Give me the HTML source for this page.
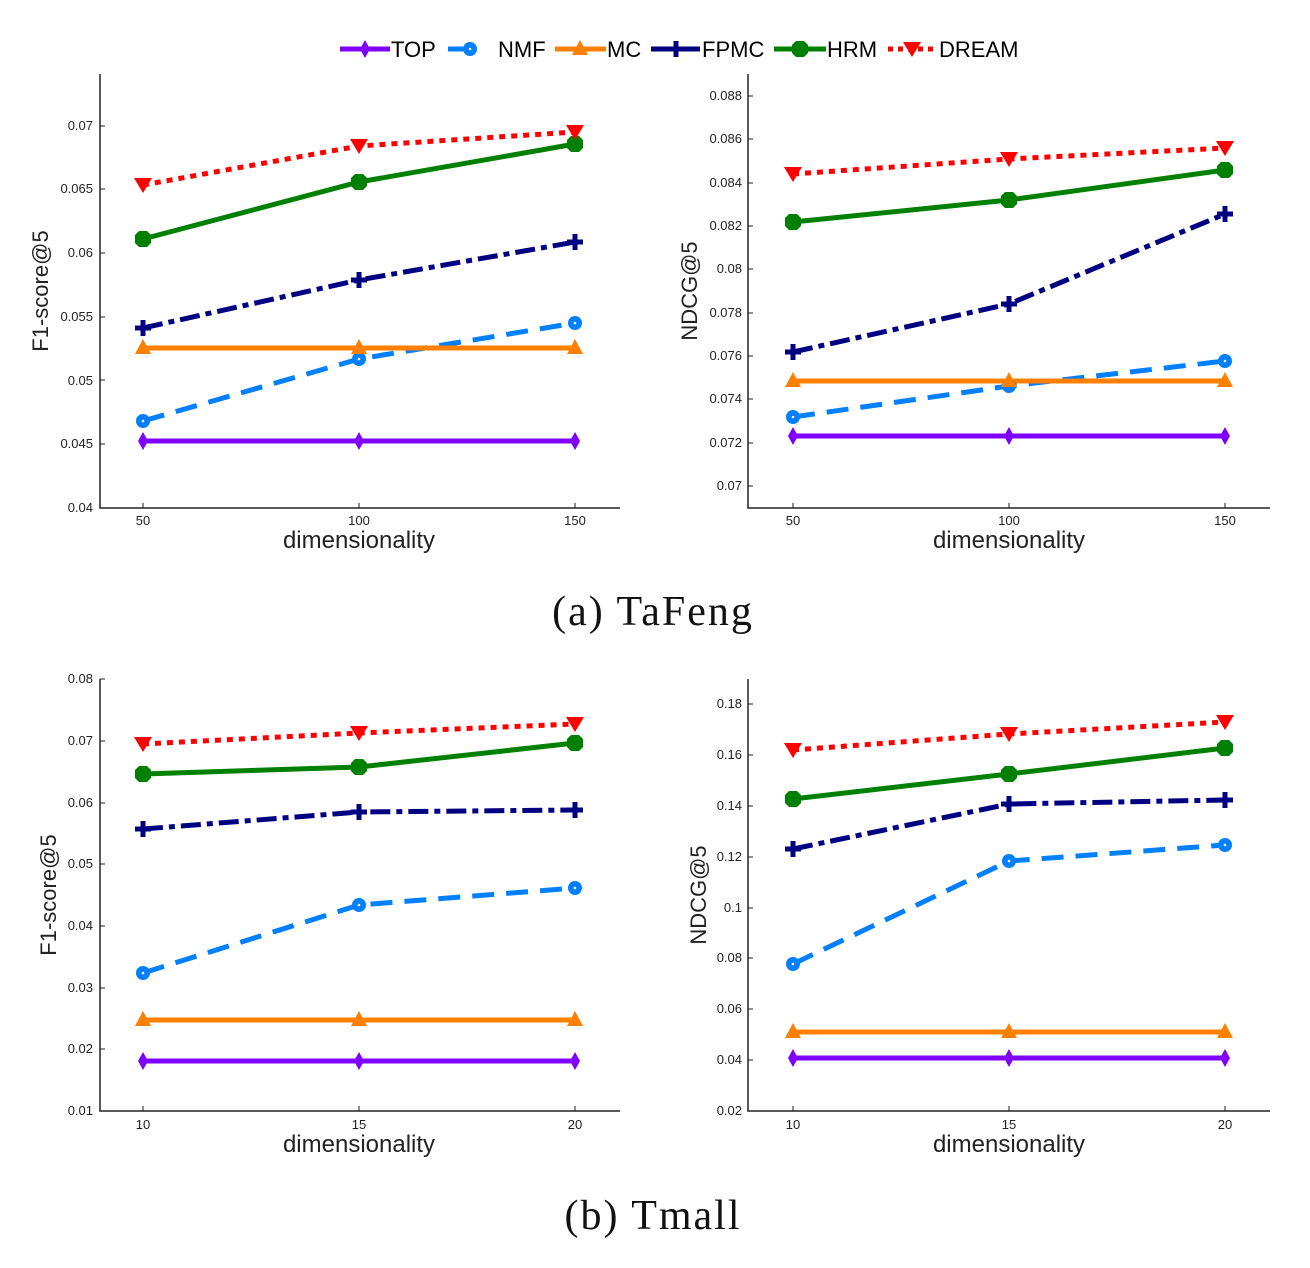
<!DOCTYPE html>
<html><head><meta charset="utf-8"><style>body{margin:0;background:#fff}svg{display:block}</style></head><body>
<svg width="1310" height="1268" viewBox="0 0 1310 1268" xmlns="http://www.w3.org/2000/svg" font-family="Liberation Sans, sans-serif">
<defs>
<g id="mTOP"><polygon points="0,-9 5,0 0,9 -5,0" fill="#7f00ff"/></g>
<g id="mNMF"><circle r="7" fill="#0080ff"/><circle r="1.3" fill="#fff"/></g>
<g id="mMC"><polygon points="0,-9 8,6 -8,6" fill="#ff8000"/></g>
<g id="mFPMC"><path d="M-8,0H8M0,-8V8" stroke="#000080" stroke-width="5"/></g>
<g id="mHRM"><polygon points="-4,-8 4,-8 8,-4 8,4 4,8 -4,8 -8,4 -8,-4" fill="#008000"/></g>
<g id="mDREAM"><polygon points="-9,-7 9,-7 0,8" fill="#ff0000"/></g>
</defs>
<g font-size="22">
<line x1="340" y1="49" x2="390" y2="49" stroke="#7f00ff" stroke-width="5"/><use href="#mTOP" x="365" y="49"/><text x="391" y="57">TOP</text>
<line x1="448" y1="49" x2="475" y2="49" stroke="#0080ff" stroke-width="5"/><use href="#mNMF" x="470" y="49"/><text x="498" y="57">NMF</text>
<line x1="555" y1="49" x2="606" y2="49" stroke="#ff8000" stroke-width="5"/><use href="#mMC" x="580" y="49"/><text x="607" y="57">MC</text>
<line x1="651" y1="49" x2="700" y2="49" stroke="#000080" stroke-width="5"/><use href="#mFPMC" x="676" y="49"/><text x="702" y="57">FPMC</text>
<line x1="774" y1="49" x2="826" y2="49" stroke="#008000" stroke-width="5"/><use href="#mHRM" x="800" y="49"/><text x="827" y="57">HRM</text>
<line x1="888" y1="49" x2="937" y2="49" stroke="#ff0000" stroke-width="5" stroke-dasharray="5,5"/><use href="#mDREAM" x="912" y="49"/><text x="939" y="57">DREAM</text>
</g>

<g stroke="#222" stroke-width="1.5" fill="none">
<path d="M100,74V508H620"/><path d="M748,74V508H1270"/>
<path d="M100,679V1111H620"/><path d="M748,679V1111H1270"/>
</g>
<g font-size="13" fill="#222" text-anchor="end">
<g><text x="93" y="512">0.04</text><text x="93" y="448">0.045</text><text x="93" y="385">0.05</text><text x="93" y="321">0.055</text><text x="93" y="257">0.06</text><text x="93" y="193">0.065</text><text x="93" y="130">0.07</text></g>
<path d="M100,444h5M100,380h5M100,317h5M100,253h5M100,189h5M100,126h5" stroke="#222"/>
<g><text x="742" y="490">0.07</text><text x="742" y="447">0.072</text><text x="742" y="403">0.074</text><text x="742" y="360">0.076</text><text x="742" y="317">0.078</text><text x="742" y="273">0.08</text><text x="742" y="230">0.082</text><text x="742" y="187">0.084</text><text x="742" y="143">0.086</text><text x="742" y="100">0.088</text></g>
<path d="M748,486h5M748,443h5M748,399h5M748,356h5M748,313h5M748,269h5M748,226h5M748,183h5M748,139h5M748,96h5" stroke="#222"/>
<g><text x="93" y="1115">0.01</text><text x="93" y="1053">0.02</text><text x="93" y="992">0.03</text><text x="93" y="930">0.04</text><text x="93" y="868">0.05</text><text x="93" y="807">0.06</text><text x="93" y="745">0.07</text><text x="93" y="683">0.08</text></g>
<path d="M100,1049h5M100,988h5M100,926h5M100,864h5M100,803h5M100,741h5M100,679h5" stroke="#222"/>
<g><text x="742" y="1115">0.02</text><text x="742" y="1064">0.04</text><text x="742" y="1013">0.06</text><text x="742" y="962">0.08</text><text x="742" y="912">0.1</text><text x="742" y="861">0.12</text><text x="742" y="810">0.14</text><text x="742" y="759">0.16</text><text x="742" y="708">0.18</text></g>
<path d="M748,1060h5M748,1009h5M748,958h5M748,908h5M748,857h5M748,806h5M748,755h5M748,704h5" stroke="#222"/>
</g>
<g font-size="13" fill="#222" text-anchor="middle">
<text x="143" y="525">50</text><text x="359" y="525">100</text><text x="575" y="525">150</text>
<text x="793" y="525">50</text><text x="1009" y="525">100</text><text x="1225" y="525">150</text>
<text x="143" y="1129">10</text><text x="359" y="1129">15</text><text x="575" y="1129">20</text>
<text x="793" y="1129">10</text><text x="1009" y="1129">15</text><text x="1225" y="1129">20</text>
</g>
<path d="M143,508v-5M359,508v-5M575,508v-5M793,508v-5M1009,508v-5M1225,508v-5M143,1111v-5M359,1111v-5M575,1111v-5M793,1111v-5M1009,1111v-5M1225,1111v-5" stroke="#222"/>
<g font-size="24" fill="#222" text-anchor="middle">
<text x="359" y="548">dimensionality</text><text x="1009" y="548">dimensionality</text>
<text x="359" y="1152">dimensionality</text><text x="1009" y="1152">dimensionality</text>
</g>
<g font-size="22" fill="#222" text-anchor="middle">
<text transform="translate(48,291) rotate(-90)">F1-score@5</text>
<text transform="translate(697,291) rotate(-90)">NDCG@5</text>
<text transform="translate(56,895) rotate(-90)">F1-score@5</text>
<text transform="translate(706,895) rotate(-90)">NDCG@5</text>
</g>
<g font-family="Liberation Serif, serif" font-size="42" letter-spacing="2" text-anchor="middle" fill="#111">
<text x="653" y="625">(a) TaFeng</text><text x="653" y="1229">(b) Tmall</text>
</g>

<g fill="none" stroke-width="5">
<polyline points="143,441 359,441 575,441" stroke="#7f00ff"/>
<polyline points="143,421 359,359 575,323" stroke="#0080ff" stroke-dasharray="22,12"/>
<polyline points="143,348 359,348 575,348" stroke="#ff8000"/>
<polyline points="143,328 359,280 575,242" stroke="#000080" stroke-dasharray="20,6,6,6"/>
<polyline points="143,239 359,182 575,144" stroke="#008000"/>
<polyline points="143,185 359,146 575,132" stroke="#ff0000" stroke-dasharray="6,6"/>
<polyline points="793,436 1009,436 1225,436" stroke="#7f00ff"/>
<polyline points="793,417 1009,386 1225,361" stroke="#0080ff" stroke-dasharray="22,12"/>
<polyline points="793,381 1009,381 1225,381" stroke="#ff8000"/>
<polyline points="793,352 1009,304 1225,214" stroke="#000080" stroke-dasharray="20,6,6,6"/>
<polyline points="793,222 1009,200 1225,170" stroke="#008000"/>
<polyline points="793,174 1009,159 1225,148" stroke="#ff0000" stroke-dasharray="6,6"/>
<polyline points="143,1061 359,1061 575,1061" stroke="#7f00ff"/>
<polyline points="143,973 359,905 575,888" stroke="#0080ff" stroke-dasharray="22,12"/>
<polyline points="143,1020 359,1020 575,1020" stroke="#ff8000"/>
<polyline points="143,829 359,812 575,810" stroke="#000080" stroke-dasharray="20,6,6,6"/>
<polyline points="143,774 359,767 575,743" stroke="#008000"/>
<polyline points="143,744 359,733 575,724" stroke="#ff0000" stroke-dasharray="6,6"/>
<polyline points="793,1058 1009,1058 1225,1058" stroke="#7f00ff"/>
<polyline points="793,964 1009,861 1225,845" stroke="#0080ff" stroke-dasharray="22,12"/>
<polyline points="793,1032 1009,1032 1225,1032" stroke="#ff8000"/>
<polyline points="793,849 1009,804 1225,800" stroke="#000080" stroke-dasharray="20,6,6,6"/>
<polyline points="793,799 1009,774 1225,748" stroke="#008000"/>
<polyline points="793,750 1009,734 1225,722" stroke="#ff0000" stroke-dasharray="6,6"/>
</g>
<g>
<use href="#mTOP" x="143" y="441"/><use href="#mTOP" x="359" y="441"/><use href="#mTOP" x="575" y="441"/>
<use href="#mNMF" x="143" y="421"/><use href="#mNMF" x="359" y="359"/><use href="#mNMF" x="575" y="323"/>
<use href="#mMC" x="143" y="348"/><use href="#mMC" x="359" y="348"/><use href="#mMC" x="575" y="348"/>
<use href="#mFPMC" x="143" y="328"/><use href="#mFPMC" x="359" y="280"/><use href="#mFPMC" x="575" y="242"/>
<use href="#mHRM" x="143" y="239"/><use href="#mHRM" x="359" y="182"/><use href="#mHRM" x="575" y="144"/>
<use href="#mDREAM" x="143" y="185"/><use href="#mDREAM" x="359" y="146"/><use href="#mDREAM" x="575" y="132"/>

<use href="#mTOP" x="793" y="436"/><use href="#mTOP" x="1009" y="436"/><use href="#mTOP" x="1225" y="436"/>
<use href="#mNMF" x="793" y="417"/><use href="#mNMF" x="1009" y="386"/><use href="#mNMF" x="1225" y="361"/>
<use href="#mMC" x="793" y="381"/><use href="#mMC" x="1009" y="381"/><use href="#mMC" x="1225" y="381"/>
<use href="#mFPMC" x="793" y="352"/><use href="#mFPMC" x="1009" y="304"/><use href="#mFPMC" x="1225" y="214"/>
<use href="#mHRM" x="793" y="222"/><use href="#mHRM" x="1009" y="200"/><use href="#mHRM" x="1225" y="170"/>
<use href="#mDREAM" x="793" y="174"/><use href="#mDREAM" x="1009" y="159"/><use href="#mDREAM" x="1225" y="148"/>

<use href="#mTOP" x="143" y="1061"/><use href="#mTOP" x="359" y="1061"/><use href="#mTOP" x="575" y="1061"/>
<use href="#mNMF" x="143" y="973"/><use href="#mNMF" x="359" y="905"/><use href="#mNMF" x="575" y="888"/>
<use href="#mMC" x="143" y="1020"/><use href="#mMC" x="359" y="1020"/><use href="#mMC" x="575" y="1020"/>
<use href="#mFPMC" x="143" y="829"/><use href="#mFPMC" x="359" y="812"/><use href="#mFPMC" x="575" y="810"/>
<use href="#mHRM" x="143" y="774"/><use href="#mHRM" x="359" y="767"/><use href="#mHRM" x="575" y="743"/>
<use href="#mDREAM" x="143" y="744"/><use href="#mDREAM" x="359" y="733"/><use href="#mDREAM" x="575" y="724"/>

<use href="#mTOP" x="793" y="1058"/><use href="#mTOP" x="1009" y="1058"/><use href="#mTOP" x="1225" y="1058"/>
<use href="#mNMF" x="793" y="964"/><use href="#mNMF" x="1009" y="861"/><use href="#mNMF" x="1225" y="845"/>
<use href="#mMC" x="793" y="1032"/><use href="#mMC" x="1009" y="1032"/><use href="#mMC" x="1225" y="1032"/>
<use href="#mFPMC" x="793" y="849"/><use href="#mFPMC" x="1009" y="804"/><use href="#mFPMC" x="1225" y="800"/>
<use href="#mHRM" x="793" y="799"/><use href="#mHRM" x="1009" y="774"/><use href="#mHRM" x="1225" y="748"/>
<use href="#mDREAM" x="793" y="750"/><use href="#mDREAM" x="1009" y="734"/><use href="#mDREAM" x="1225" y="722"/>
</g>
</svg>
</body></html>
